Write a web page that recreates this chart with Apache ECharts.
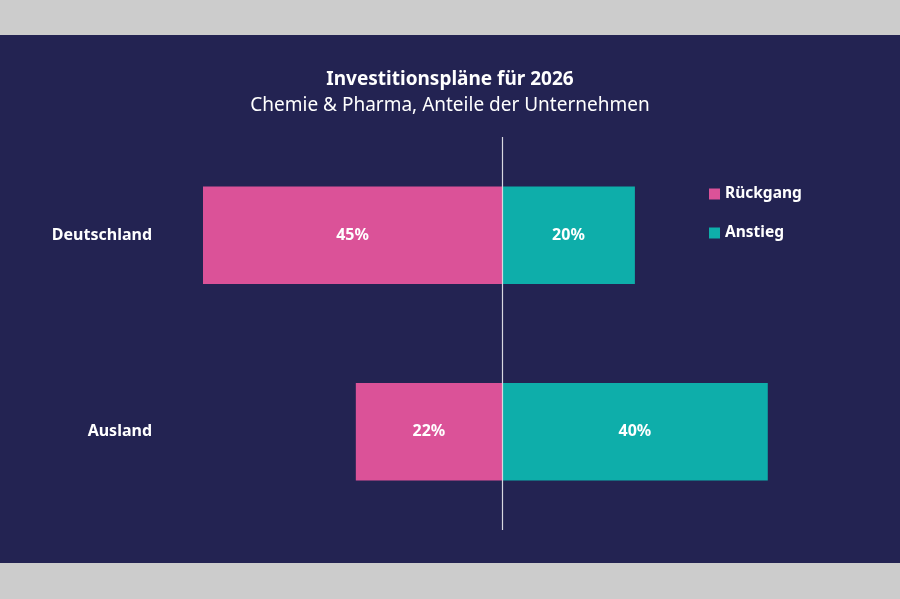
<!DOCTYPE html>
<html>
<head>
<meta charset="utf-8">
<script src="https://cdn.jsdelivr.net/npm/echarts@6/dist/echarts.min.js"></script>
<style>
html,body{margin:0;padding:0;background:#cccccc;}
#c{width:900px;height:599px;}
</style>
</head>
<body>
<div id="c"></div>
<script>
const categories = ['Deutschland', 'Ausland'];
const seriesNames = ['Rückgang', 'Anstieg'];
const rueckgang = [45, 22];
const anstieg = [20, 40];

const FONT = '"Noto Sans", sans-serif';
const chart = echarts.init(document.getElementById('c'));
const labelStyle = {
  show: true, position: 'inside', color: '#ffffff', fontWeight: 'bold',
  fontSize: 16, fontFamily: FONT,
  formatter: p => Math.abs(p.value) + '%'
};
chart.setOption({
  backgroundColor: '#cccccc',
  animation: false,
  graphic: [{
    type: 'rect', z: -10, silent: true,
    shape: { x: 0, y: 35, width: 900, height: 528 },
    style: { fill: '#232352' }
  }],
  title: {
    text: 'Investitionspläne für 2026',
    subtext: 'Chemie & Pharma, Anteile der Unternehmen',
    left: 'center', top: 65, itemGap: 7,
    textStyle: { color: '#ffffff', fontSize: 19, fontWeight: 'bold', fontFamily: FONT },
    subtextStyle: { color: '#ffffff', fontSize: 19, fontFamily: FONT }
  },
  legend: {
    orient: 'vertical', left: 704, top: 181,
    itemWidth: 11, itemHeight: 11, itemGap: 23,
    icon: 'rect',
    textStyle: { color: '#ffffff', fontSize: 15.5, fontWeight: 'bold', fontFamily: FONT },
    data: seriesNames
  },
  grid: { left: 203, right: 99, top: 137, bottom: 69, containLabel: false },
  xAxis: {
    type: 'value', min: -45, max: 45, show: false
  },
  yAxis: {
    type: 'category', data: categories, inverse: true,
    axisLine: { show: false }, axisTick: { show: false },
    axisLabel: { color: '#ffffff', fontSize: 16, fontWeight: 'bold', fontFamily: FONT, margin: 51 }
  },
  series: [
    {
      name: seriesNames[0], type: 'bar', stack: 'a', barWidth: '49.5%',
      itemStyle: { color: '#db5298' },
      label: labelStyle,
      data: rueckgang.map(v => -v),
      markLine: {
        silent: true, symbol: 'none', label: { show: false },
        lineStyle: { color: '#d8d8e0', width: 1.2, type: 'solid' },
        data: [{ xAxis: 0 }],
        z: 10
      }
    },
    {
      name: seriesNames[1], type: 'bar', stack: 'a', barWidth: '49.5%',
      itemStyle: { color: '#0eaeaa' },
      label: labelStyle,
      data: anstieg
    }
  ]
});
</script>
</body>
</html>
